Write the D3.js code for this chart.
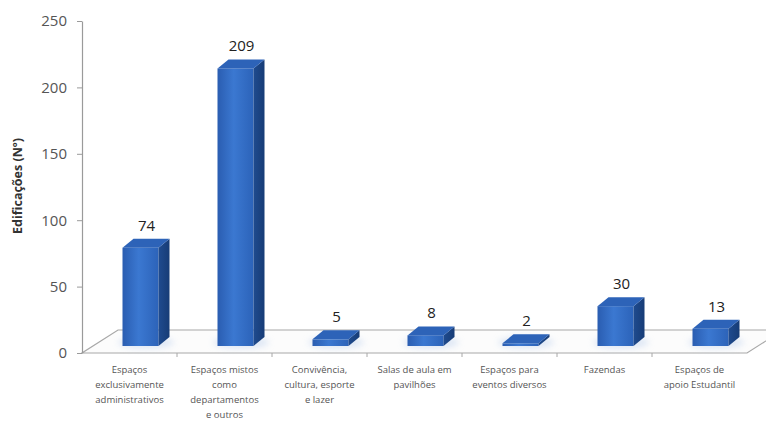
<!DOCTYPE html>
<html>
<head>
<meta charset="utf-8">
<script src="https://cdn.jsdelivr.net/npm/d3@7/dist/d3.min.js"></script>
<style>
  html, body { margin: 0; padding: 0; background: #fff; }
  svg { display: block; }
</style>
</head>
<body>
<svg id="chart" width="766" height="421"></svg>
<script>
const categories = [
  "Espaços exclusivamente administrativos",
  "Espaços mistos como departamentos e outros",
  "Convivência, cultura, esporte e lazer",
  "Salas de aula em pavilhões",
  "Espaços para eventos diversos",
  "Fazendas",
  "Espaços de apoio Estudantil"
];
const categoryLines = [
  ["Espaços", "exclusivamente", "administrativos"],
  ["Espaços mistos", "como", "departamentos", "e outros"],
  ["Convivência,", "cultura, esporte", "e lazer"],
  ["Salas de aula em", "pavilhões"],
  ["Espaços para", "eventos diversos"],
  ["Fazendas"],
  ["Espaços de", "apoio Estudantil"]
];
const values = [74, 209, 5, 8, 2, 30, 13];
const yTicks = [0, 50, 100, 150, 200, 250];
const yTitle = "Edificações (Nº)";

(function () {
const svg = d3.select("#chart");

// layout
const pLeft = 82, pRight = 747, pTop = 21, pBottom = 353;
const floorDX = 36, floorDY = -23;    // floor depth offset
const barShiftX = 11, barShiftY = -7; // bar front plane inside floor depth
const barDX = 11, barDY = -9;         // bar depth
const barW = 36;

const x = d3.scaleBand().domain(categories).range([pLeft, pRight]).padding(0);
const y = d3.scaleLinear().domain([0, 250]).range([pBottom, pTop]);

// gradients
const defs = svg.append("defs");
const gFront = defs.append("linearGradient").attr("id", "gFront").attr("x1", 0).attr("x2", 1).attr("y1", 0).attr("y2", 0);
gFront.append("stop").attr("offset", 0).attr("stop-color", "#2a5db1");
gFront.append("stop").attr("offset", 0.45).attr("stop-color", "#3b78d1");
gFront.append("stop").attr("offset", 1).attr("stop-color", "#2c63b9");
const gSide = defs.append("linearGradient").attr("id", "gSide").attr("x1", 0).attr("x2", 1).attr("y1", 0).attr("y2", 0);
gSide.append("stop").attr("offset", 0).attr("stop-color", "#1f4b8f");
gSide.append("stop").attr("offset", 1).attr("stop-color", "#173c76");
const blur = defs.append("filter").attr("id", "blur").attr("x", "-50%").attr("y", "-50%").attr("width", "200%").attr("height", "200%");
blur.append("feGaussianBlur").attr("stdDeviation", 3);

// floor
const floorPts = [
  [pLeft, pBottom], [pRight, pBottom],
  [pRight + floorDX, pBottom + floorDY], [pLeft + floorDX, pBottom + floorDY]
];
svg.append("polygon")
  .attr("points", floorPts.map(p => p.join(",")).join(" "))
  .attr("fill", "#fcfcfc")
  .attr("stroke", "#a8a8a8")
  .attr("stroke-width", 1.2);

// category ticks on floor front edge
svg.append("g").selectAll("line")
  .data(categories.slice(1))
  .join("line")
  .attr("x1", d => x(d)).attr("x2", d => x(d))
  .attr("y1", pBottom).attr("y2", pBottom + 4)
  .attr("stroke", "#a8a8a8");

// y axis
const yAxis = d3.axisLeft(y).tickValues(yTicks).tickSize(5).tickPadding(10).tickSizeOuter(0);
const ga = svg.append("g").attr("transform", `translate(${pLeft},0)`).call(yAxis);
ga.select(".domain").attr("stroke", "#9a9a9a").attr("stroke-width", 1.2);
ga.selectAll(".tick line").attr("stroke", "#9a9a9a");
ga.selectAll(".tick text")
  .attr("font-family", "'Open Sans', sans-serif")
  .attr("font-size", 15)
  .attr("fill", "#555");

// y title
svg.append("text")
  .attr("transform", "translate(22,186) rotate(-90)")
  .attr("text-anchor", "middle")
  .attr("font-family", "'Open Sans', sans-serif")
  .attr("font-weight", "bold")
  .attr("font-size", 12.5)
  .attr("fill", "#333")
  .text(yTitle);

// bars
const bars = svg.append("g").selectAll("g")
  .data(values.map((v, i) => ({ v, c: categories[i] })))
  .join("g");

bars.each(function(d) {
  const g = d3.select(this);
  const x0 = x(d.c) + x.bandwidth() / 2 + barShiftX - barW / 2;
  const x1 = x0 + barW;
  const yb = y(0) + barShiftY;
  const yt = y(d.v) + barShiftY;
  g.append("ellipse")
    .attr("cx", x0 + barW / 2 + barDX / 2).attr("cy", yb + barDY / 2 + 1)
    .attr("rx", barW / 2 + 10).attr("ry", 6)
    .attr("fill", "#c8d8f0").attr("opacity", 0.6)
    .attr("filter", "url(#blur)");
  g.append("rect")
    .attr("x", x0).attr("y", yt).attr("width", barW).attr("height", yb - yt)
    .attr("fill", "url(#gFront)");
  g.append("polygon")
    .attr("points", [[x1, yt], [x1 + barDX, yt + barDY], [x1 + barDX, yb + barDY], [x1, yb]].map(p => p.join(",")).join(" "))
    .attr("fill", "url(#gSide)");
  g.append("polygon")
    .attr("points", [[x0, yt], [x1, yt], [x1 + barDX, yt + barDY], [x0 + barDX, yt + barDY]].map(p => p.join(",")).join(" "))
    .attr("fill", "#2d63b8");
  g.append("text")
    .attr("x", x0 + barW / 2 + 6)
    .attr("y", yt - 17)
    .attr("text-anchor", "middle")
    .attr("font-family", "'Open Sans', sans-serif")
    .attr("font-size", 15)
    .attr("fill", "#222")
    .text(d.v);
});

// category labels
const cl = svg.append("g").selectAll("text")
  .data(categories.map((c, i) => ({ c, lines: categoryLines[i] })))
  .join("text")
  .attr("text-anchor", "middle")
  .attr("font-family", "'Open Sans', sans-serif")
  .attr("font-size", 9.5)
  .attr("fill", "#555");
cl.each(function(d) {
  const t = d3.select(this);
  d.lines.forEach((ln, j) => {
    t.append("tspan")
      .attr("x", x(d.c) + x.bandwidth() / 2)
      .attr("y", 373 + j * 15)
      .text(ln);
  });
});
})();
</script>
</body>
</html>
